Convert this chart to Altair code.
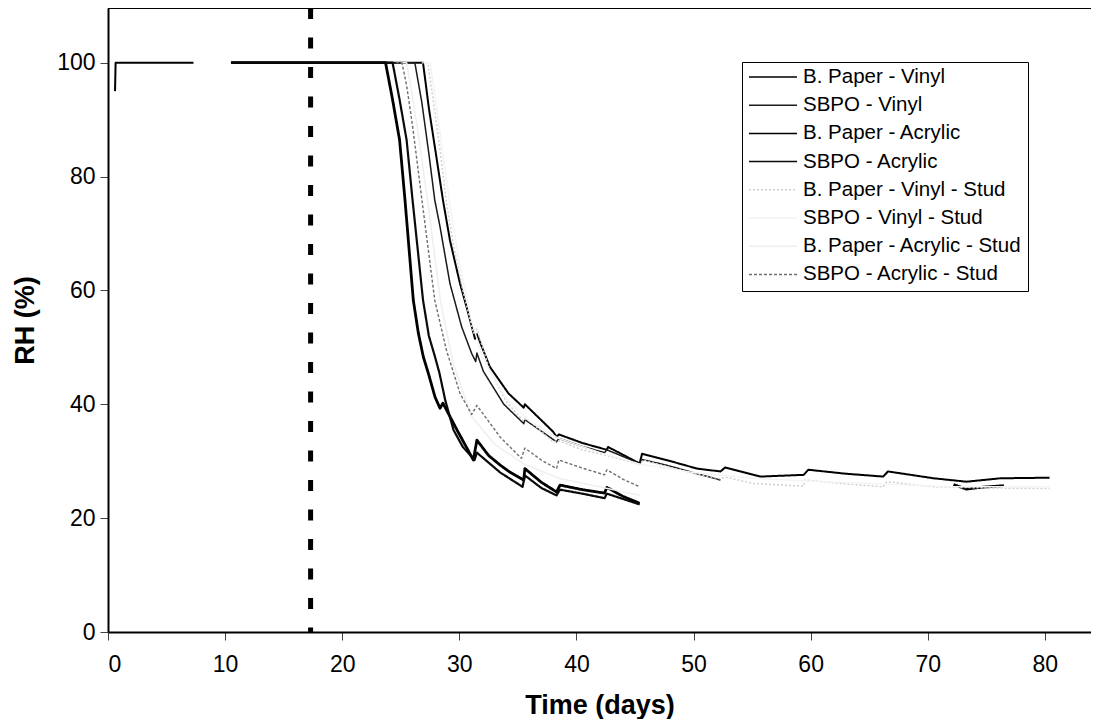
import altair as alt
import pandas as pd

series_names = [
    "B. Paper - Vinyl", "SBPO - Vinyl", "B. Paper - Acrylic", "SBPO - Acrylic",
    "B. Paper - Vinyl - Stud", "SBPO - Vinyl - Stud", "B. Paper - Acrylic - Stud",
    "SBPO - Acrylic - Stud",
]
series_colors = ["#000000", "#1a1a1a", "#000000", "#0a0a0a",
                 "#cfcfcf", "#f4f4f4", "#efefef", "#6e6e6e"]
series_widths = [2.0, 1.5, 2.8, 2.2, 1.5, 1.5, 1.5, 1.4]
series_dashes = [[1, 0], [1, 0], [1, 0], [1, 0], [2, 2], [1, 0], [1, 0], [3, 2]]

# None marks a gap in the record
bpv_day = [0.6, 0.65, 7.3, None, 10.5, 26.9, 27.4, 28.0, 28.6, 29.2, 30.06, 30.7, 31.34, 31.5,
           32.6, 34.2, 35.5, 35.6, 38.0, 38.3, 38.5, 40.5, 42.6, 42.7, 45.4, 45.6, 47.7, 50.3,
           52.3, 52.7, 55.7, 59.4, 59.8, 63.0, 66.2, 66.6, 70.5, 73.3, 76.2, 80.4]
bpv_rh = [95, 100, 100, None, 100, 100, 92, 84, 75.9, 68.8, 61.2, 56.5, 51.5, 52.3,
          46.6, 41.9, 39.4, 40.0, 35.2, 34.3, 34.7, 33.2, 32.0, 32.5, 29.6, 31.3, 30.2, 28.7,
          28.2, 28.9, 27.3, 27.6, 28.5, 27.8, 27.3, 28.2, 27.0, 26.4, 27.0, 27.1]

sv_day = [10.5, 26.2, 26.8, 27.4, 27.9, 28.35, 29.2, 30.2, 31.06, 31.4, 31.5, 32.05, 33.8, 35.5,
          35.6, 38.3, 38.5, 40.5, 42.4, 42.6, 45.4, 45.6, 47.7, 50.3, 52.3]
sv_rh = [100, 100, 93, 84, 75.9, 71.2, 61.2, 53.6, 48.9, 47.5, 49.0, 45.8, 40.0, 36.6,
         37.3, 33.4, 34.0, 32.6, 31.5, 32.0, 29.6, 30.3, 29.3, 27.8, 26.7]

bpa_day = [10.5, 23.7, 24.3, 24.9, 25.36, 26.07, 26.5, 26.93, 27.36, 27.92, 28.35, 28.6, 29.8,
           31.2, 31.5, 32.5, 33.5, 34.3, 35.5, 35.6, 37.0, 38.3, 38.6, 40.5, 42.4, 42.6, 44.0,
           45.4, None, 72.2, 73.3, 74.5, 76.5]
bpa_rh = [100, 100, 93.5, 86.4, 75.9, 58.3, 52.5, 48.3, 45.4, 41.3, 39.3, 40.2, 35.5,
          30.2, 33.7, 31.0, 29.3, 28.1, 26.7, 28.7, 26.3, 24.6, 25.8, 25.0, 24.4, 25.4, 23.8,
          22.6, None, 25.9, 25.1, 25.4, 25.7]

sa_day = [10.5, 24.3, 24.9, 25.5, 26.0, 26.9, 27.4, 27.9, 28.3, 28.8, 29.5, 30.3, 31.3, 31.5,
          33.5, 35.4, 35.6, 37.0, 38.3, 38.6, 40.5, 42.4, 42.6, 45.4]
sa_rh = [100, 100, 93.5, 86.4, 76, 58.3, 52, 48.5, 45.5, 40.7, 35.5, 32.5, 30.2, 31.5,
         28.0, 25.5, 27.5, 25.3, 24.0, 25.0, 24.3, 23.5, 24.3, 22.4]

bpvs_day = [26.8, 27.3, 27.8, 28.4, 28.9, 29.5, 30.3, 31.2, 31.5, 32.6, 34.0, 35.5, 35.7, 38.0,
            38.5, 40.5, 42.6, 45.4, 45.7, 47.7, 50.3, 52.3, 52.7, 55.1, 59.4, 59.5, 63.0, 66.2,
            66.5, 70.5, 75.0, 80.4]
bpvs_rh = [100, 100, 93, 84, 75.5, 68, 60, 52.5, 53.2, 46, 40.5, 37.0, 37.6, 33.4,
           33.6, 32.0, 31.0, 29.4, 30.2, 29.1, 27.7, 26.9, 27.2, 26.1, 25.6, 26.7, 26.0, 25.5,
           26.4, 25.5, 25.3, 25.2]

svs_day = [27.0, 27.5, 28.0, 28.6, 29.2, 30.0, 31.0, 32.0, 34.0, 36.0, 38.5, 42.0, 45.4, 50.0,
           55.0, 60.0, 66.0, 72.0, 80.4]
svs_rh = [100, 100, 93, 84, 75, 65, 55, 48, 41, 37, 34, 31.5, 29.5, 28, 27, 26.5, 26, 25.5, 25.5]

bpas_day = [25.0, 25.5, 26.0, 26.6, 27.4, 28.4, 29.5, 31.0, 33.0, 35.5, 38.5, 42.0, 45.4]
bpas_rh = [100, 100, 94, 86, 74, 58, 47, 38, 33, 29.5, 27, 25.5, 24]

sas_day = [24.6, 25.1, 25.5, 26.0, 26.8, 27.9, 28.9, 30.06, 31.06, 31.5, 33.5, 35.3, 35.6, 37.0,
           38.3, 38.5, 40.5, 42.4, 42.6, 44.0, 45.4]
sas_rh = [100, 100, 96, 89, 76, 58.3, 49.5, 41.9, 38.2, 39.8, 34.2, 30.5, 32.3, 30.2,
          28.7, 30.2, 28.8, 27.6, 28.5, 26.8, 25.5]

wall_line_day = [17.3]

series_data = [
    (bpv_day, bpv_rh), (sv_day, sv_rh), (bpa_day, bpa_rh), (sa_day, sa_rh),
    (bpvs_day, bpvs_rh), (svs_day, svs_rh), (bpas_day, bpas_rh), (sas_day, sas_rh),
]

rows = []
for k, (name, (days, rhs)) in enumerate(zip(series_names, series_data)):
    seg = 0
    for d, r in zip(days, rhs):
        if d is None:
            seg += 1
            continue
        rows.append({"series": name, "seg": f"{k}-{seg}", "day": d, "rh": r,
                     "w": series_widths[k], "idx": len(rows)})
df = pd.DataFrame(rows)

W, H = 983, 624
FONT = "Liberation Sans"

x_scale = alt.Scale(domain=[0, 83.94], nice=False, zero=False)
y_scale = alt.Scale(domain=[0, 109.6], nice=False)

lines = alt.Chart(df).mark_line(strokeJoin="round").encode(
    x=alt.X("day:Q", scale=x_scale,
            axis=alt.Axis(values=list(range(0, 81, 10)), title="Time (days)", format="d")),
    y=alt.Y("rh:Q", scale=y_scale,
            axis=alt.Axis(values=[0, 20, 40, 60, 80, 100], title="RH (%)", format="d")),
    color=alt.Color("series:N", title=None,
                    scale=alt.Scale(domain=series_names, range=series_colors)),
    strokeDash=alt.StrokeDash("series:N", title=None,
                              scale=alt.Scale(domain=series_names, range=series_dashes)),
    strokeWidth=alt.StrokeWidth("w:Q", scale=None, legend=None),
    detail="seg:N",
    order="idx:Q",
)

vline = alt.Chart(pd.DataFrame({"day": wall_line_day})).mark_rule(
    color="black", strokeWidth=5, strokeDash=[11, 18.5]
).encode(x=alt.X("day:Q", scale=x_scale), y=alt.value(0), y2=alt.value(H))

top_border = alt.Chart(pd.DataFrame({"a": [0]})).mark_rule(
    color="black", strokeWidth=2
).encode(x=alt.value(0), x2=alt.value(W), y=alt.value(0))

chart = alt.layer(vline, lines, top_border).properties(
    width=W, height=H,
    padding={"left": 100, "top": 0, "right": 0, "bottom": 87},
    autosize=alt.AutoSizeParams(type="none"),
).configure_view(stroke=None).configure_axis(
    labelFont=FONT, titleFont=FONT, labelColor="black", titleColor="black",
    domainColor="black", domainWidth=2, tickColor="#444444", tickWidth=1, tickSize=8,
    grid=False, labelFontSize=23, titleFontSize=27, titleFontWeight="bold",
).configure_axisX(labelPadding=13, titlePadding=16).configure_axisY(
    labelPadding=5, titlePadding=17
).configure_legend(
    orient="none", legendX=634, legendY=54, strokeColor="black", fillColor="white",
    padding=6, symbolType="stroke", symbolSize=2304, clipHeight=18, rowPadding=7.2,
    labelFont=FONT, labelFontSize=20.5, labelOffset=5, symbolStrokeWidth=1.5,
    labelColor="black", labelLimit=400, cornerRadius=0,
)

chart.save("out.html", embed_options={"renderer": "svg", "actions": False})
